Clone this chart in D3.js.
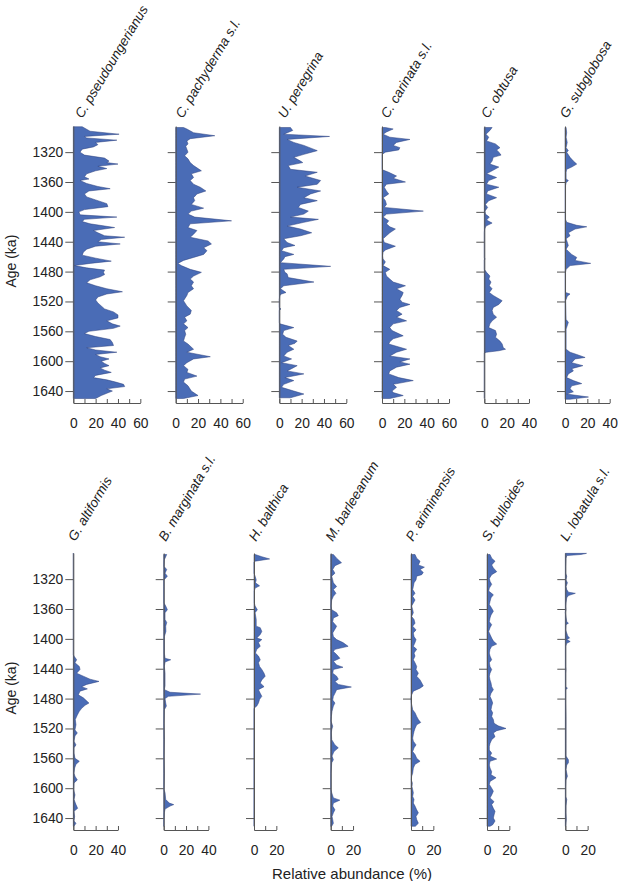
<!DOCTYPE html>
<html><head><meta charset="utf-8">
<script src="https://cdn.jsdelivr.net/npm/d3@7"></script>
<style>body{margin:0;background:#fff}</style>
</head><body><svg id="c" width="618" height="881"></svg>
<script>
// ---------- data (age ka, relative abundance %) ----------
const ageTicks = [1320,1360,1400,1440,1480,1520,1560,1600,1640];
const ageDomain = [1285,1656];

const topTaxa = ["C. pseudoungerianus","C. pachyderma s.l.","U. peregrina","C. carinata s.l.","C. obtusa","G. subglobosa"];
const topMax = [60,60,60,60,40,40];
const bottomTaxa = ["G. altiformis","B. marginata s.l.","H. balthica","M. barleeanum","P. ariminensis","S. bulloides","L. lobatula s.l."];
const bottomMax = [40,40,20,20,20,20,20];

const pseudoungerianus = [[1286,8],[1292,15],[1296,41],[1299,10],[1301,12],[1304,39],[1307,20],[1310,22],[1313,18],[1316,8],[1320,6],[1324,10],[1328,28],[1332,32],[1334,30],[1336,40],[1339,22],[1342,30],[1345,20],[1349,12],[1353,10],[1356,14],[1358,6],[1362,12],[1366,22],[1369,33],[1372,14],[1376,10],[1380,12],[1384,20],[1389,30],[1393,31],[1397,10],[1400,5],[1404,6],[1407,39],[1410,10],[1413,8],[1416,15],[1421,37],[1425,18],[1428,22],[1432,28],[1434,46],[1437,25],[1440,22],[1443,42],[1446,20],[1450,12],[1454,9],[1458,8],[1462,20],[1466,34],[1469,15],[1472,1],[1475,12],[1478,28],[1481,27],[1484,28],[1487,24],[1491,15],[1495,12],[1499,20],[1503,30],[1507,44],[1510,30],[1514,22],[1518,20],[1522,22],[1526,25],[1530,28],[1534,36],[1538,40],[1542,40],[1546,30],[1550,35],[1553,42],[1556,36],[1560,14],[1563,10],[1567,20],[1571,33],[1575,35],[1579,36],[1582,12],[1585,20],[1588,39],[1591,20],[1594,24],[1597,32],[1600,25],[1603,28],[1606,32],[1609,24],[1612,28],[1615,34],[1619,20],[1622,18],[1625,30],[1628,38],[1631,45],[1634,46],[1637,30],[1640,35],[1643,30],[1646,25],[1650,20]];
const pachyderma = [[1287,7],[1289,10],[1294,16],[1298,35],[1302,13],[1305,10],[1309,11],[1312,9],[1316,10],[1320,11],[1325,8],[1329,11],[1334,13],[1338,16],[1345,23],[1349,14],[1354,16],[1358,13],[1363,16],[1367,22],[1372,27],[1376,19],[1381,16],[1385,17],[1390,14],[1395,25],[1399,14],[1403,11],[1407,17],[1412,50],[1416,13],[1421,11],[1425,19],[1430,16],[1434,13],[1439,29],[1443,32],[1448,25],[1452,28],[1457,25],[1461,16],[1465,7],[1469,2],[1472,5],[1477,13],[1481,23],[1486,16],[1490,13],[1494,16],[1499,14],[1503,16],[1508,11],[1512,10],[1519,7],[1526,10],[1532,14],[1537,13],[1541,8],[1546,10],[1550,7],[1555,11],[1559,8],[1564,9],[1568,8],[1573,7],[1577,11],[1584,16],[1588,10],[1594,31],[1597,16],[1602,10],[1606,7],[1611,11],[1615,10],[1620,19],[1624,8],[1628,7],[1633,11],[1640,14],[1646,20],[1650,7]];
const peregrina = [[1287,10],[1291,12],[1296,4],[1299,45],[1303,7],[1307,13],[1311,22],[1318,34],[1323,22],[1327,13],[1332,19],[1334,21],[1338,8],[1343,10],[1347,34],[1352,23],[1358,37],[1363,34],[1367,16],[1372,37],[1376,28],[1381,22],[1385,34],[1390,19],[1394,17],[1399,26],[1403,22],[1407,10],[1410,35],[1414,22],[1419,7],[1423,19],[1428,29],[1432,19],[1436,4],[1441,7],[1445,14],[1448,4],[1452,2],[1457,13],[1460,5],[1463,4],[1468,1],[1473,46],[1477,4],[1481,5],[1483,7],[1488,8],[1494,31],[1499,4],[1503,1],[1508,6],[1510,2],[1512,0.5],[1517,0],[1528,0],[1530,1.5],[1532,0],[1548,0],[1550,0.5],[1555,13],[1559,4],[1564,3],[1568,6],[1573,16],[1576,14],[1579,8],[1584,13],[1588,7],[1593,4],[1597,11],[1602,2],[1606,16],[1610,11],[1613,7],[1617,22],[1622,5],[1626,13],[1631,4],[1635,2],[1640,13],[1644,22],[1649,10]];
const carinata = [[1287,3],[1289,10],[1293,4],[1296,1],[1300,7],[1303,25],[1307,13],[1311,10],[1314,16],[1317,15],[1320,3],[1323,0.3],[1343,0.3],[1344,1],[1347,6],[1352,13],[1355,10],[1360,21],[1363,4],[1367,2],[1372,4],[1376,6],[1381,1],[1385,3],[1390,4],[1394,2],[1399,37],[1403,4],[1407,1],[1412,6],[1416,4],[1420,7],[1423,12],[1428,7],[1432,4],[1436,1],[1441,2],[1446,12],[1451,3],[1454,1],[1459,0.6],[1463,1],[1467,3],[1472,1],[1477,7],[1481,3],[1486,4],[1490,7],[1494,10],[1499,21],[1503,13],[1508,19],[1512,18],[1517,16],[1521,18],[1524,25],[1528,16],[1532,13],[1537,18],[1541,13],[1546,22],[1550,10],[1555,7],[1559,9],[1566,19],[1570,10],[1574,7],[1577,6],[1584,22],[1588,13],[1593,7],[1597,25],[1601,16],[1604,25],[1608,13],[1613,7],[1617,6],[1622,15],[1626,28],[1631,10],[1635,13],[1640,9],[1642,10],[1646,19],[1650,7]];
const obtusa = [[1287,7],[1291,5],[1296,1.5],[1300,4],[1305,2],[1309,10],[1314,14],[1317,11],[1320,13],[1324,15],[1327,8],[1332,7],[1336,5],[1340,13],[1345,7],[1349,2],[1354,11],[1358,4],[1363,2],[1367,13],[1372,3],[1376,2],[1381,11],[1385,4],[1390,1],[1394,3],[1399,0.6],[1403,1],[1407,4.5],[1411,2],[1415,7],[1419,1.5],[1423,0.3],[1428,0],[1461,0],[1463,0.6],[1465,0],[1477,0],[1481,2],[1486,5],[1490,4],[1494,6],[1499,4.5],[1503,7],[1508,4.5],[1512,8],[1519,16],[1524,13],[1528,8],[1532,7],[1537,8],[1541,11],[1546,7],[1550,5],[1555,4],[1559,10],[1564,11],[1568,10],[1573,14],[1577,16],[1582,17],[1584,19],[1586,13],[1588,2],[1589,0],[1650,0]];
const subglobosa = [[1287,1],[1294,1.5],[1300,1],[1307,2],[1314,1],[1318,3],[1320,1.5],[1327,4.5],[1332,7.5],[1336,10.5],[1340,6],[1343,1.5],[1347,1],[1356,1],[1358,3],[1361,1],[1365,0.5],[1410,0.5],[1414,1.5],[1418,10.5],[1420,19.5],[1423,9],[1428,3],[1432,4.5],[1436,1],[1445,3],[1450,1],[1457,6],[1461,10.5],[1465,9],[1469,23],[1472,4.5],[1477,1],[1481,0.5],[1508,0.5],[1510,4.5],[1513,2],[1519,0.6],[1544,1],[1548,3],[1557,1],[1584,1],[1588,4.5],[1591,10.5],[1595,18],[1597,9],[1602,6],[1606,16],[1610,6],[1613,7.5],[1617,3],[1622,1.5],[1626,7.5],[1630,15],[1633,6],[1637,4.5],[1641,7.5],[1644,1.5],[1648,21],[1651,4.5]];

const altiformis = [[1285,0],[1421,0],[1423,0.6],[1428,3],[1432,1.5],[1437,5.4],[1441,6],[1446,3],[1450,9],[1454,15],[1457,23],[1461,12],[1464,7.5],[1467,12.6],[1470,6],[1475,4.5],[1479,9],[1484,12.6],[1486,14],[1489,10.5],[1493,7.5],[1497,5.4],[1502,3.6],[1508,1.8],[1515,2.4],[1522,1.5],[1526,3.6],[1530,1.5],[1537,0.6],[1542,2.4],[1546,0.6],[1553,0.6],[1560,1.5],[1564,5.4],[1568,2.4],[1573,1.2],[1580,0.6],[1584,1.5],[1589,3.6],[1593,0.6],[1602,0.3],[1609,1.5],[1615,0.6],[1622,2.4],[1627,3.9],[1631,0.6],[1638,1.2],[1644,0.6],[1647,2.4],[1651,0.6]];
const marginata = [[1287,2.7],[1294,0.6],[1303,0.3],[1307,2.7],[1312,1.2],[1316,3.3],[1321,0.3],[1330,0.3],[1352,0.3],[1356,1.8],[1361,3.3],[1365,1.2],[1374,1.2],[1378,2.7],[1383,1.8],[1390,2],[1397,0.6],[1419,0.6],[1426,1.2],[1428,6.3],[1431,1.2],[1437,0.6],[1446,1.2],[1463,1.2],[1468,0.6],[1471.5,5.7],[1474,33],[1477,4.2],[1480,1.2],[1486,1.8],[1490,2.4],[1495,0.6],[1513,0.3],[1535,0.6],[1557,0.3],[1580,0.6],[1602,0.3],[1606,1.2],[1615,1.8],[1620,5],[1622,9],[1624,5.7],[1628,1.2],[1633,0.6],[1642,0.3],[1651,0.3]];
const balthica = [[1287,1],[1290,7],[1293,14],[1296,1],[1297,0],[1312,0],[1316,1],[1321,2],[1325,1.3],[1329,5],[1332,1],[1336,0.3],[1352,0.3],[1356,1],[1361,3],[1365,1],[1374,2],[1383,2],[1385,5.6],[1390,7],[1394,5.6],[1399,2.5],[1401,7],[1405,4],[1410,5.6],[1414,2.5],[1419,1.3],[1423,4],[1428,5.6],[1432,4],[1437,5],[1441,7],[1446,9],[1450,10],[1455,7],[1459,5.6],[1464,9],[1468,4],[1473,5.6],[1477,7],[1481,5],[1486,4],[1490,2.5],[1493,0],[1651,0]];
const barleeanum = [[1287,2.4],[1292,5.3],[1298,9.7],[1302,3.8],[1307,1.8],[1312,3.8],[1316,0.9],[1321,1.8],[1325,2.4],[1330,5.3],[1334,2.4],[1339,4.7],[1343,2.4],[1348,0.9],[1352,0.6],[1356,0.3],[1361,0.9],[1365,5.3],[1369,6.8],[1372,2.4],[1377,1.8],[1383,5.3],[1387,3.8],[1392,1.8],[1397,2.4],[1401,5.3],[1405,11],[1410,15.6],[1414,3.8],[1417,2.4],[1421,5.3],[1426,8.2],[1430,2.4],[1435,5.3],[1438,11],[1441,2.4],[1446,1.8],[1450,5.3],[1454,6.8],[1457,3.8],[1461,6.8],[1464.5,18.5],[1468,5.3],[1473,3.8],[1477,2.4],[1482,1.8],[1486,3.8],[1490,2.4],[1497,1.2],[1504,0.6],[1510,0.3],[1517,1.8],[1522,0.9],[1526,0.6],[1535,0.9],[1542,3.8],[1546,6.8],[1551,2.9],[1557,1.2],[1562,2.4],[1566,0.9],[1573,0.6],[1580,0.3],[1602,0.3],[1606,0.9],[1613,2.4],[1616,8.2],[1620,2.4],[1624,1.8],[1629,3.8],[1633,2.4],[1638,1.2],[1642,1.8],[1647,2.4],[1651,0.9]];
const ariminensis = [[1287,3.6],[1292,5.1],[1296,8.1],[1301,6.6],[1304,12],[1307,8.1],[1311,11],[1314,9.6],[1316,5.1],[1321,4.5],[1325,2.7],[1330,2.1],[1334,1.5],[1339,3.6],[1343,1.5],[1348,3.6],[1352,2.1],[1356,0.6],[1361,1.5],[1365,2.1],[1370,0.6],[1374,2.7],[1379,3.6],[1383,1.5],[1388,4.5],[1392,2.1],[1397,2.7],[1401,4.5],[1405,3.6],[1410,2.1],[1414,5.1],[1419,2.7],[1423,3.6],[1428,2.1],[1432,3.6],[1437,5.1],[1441,4.5],[1446,6.6],[1450,5.1],[1455,8.1],[1459,9.6],[1463,11],[1466,8.1],[1470,2.1],[1475,0.6],[1479,0],[1486,0.3],[1490,0.9],[1495,1.5],[1499,3.6],[1504,5.1],[1508,6.6],[1512,8.7],[1515,5.1],[1520,3.6],[1524,2.7],[1528,2.1],[1533,1.5],[1537,2.1],[1542,4.5],[1546,2.7],[1551,1.5],[1555,3.6],[1560,5.1],[1564,8.1],[1568,3.6],[1573,2.1],[1580,1.5],[1584,0.6],[1589,0.3],[1593,1.2],[1598,0.9],[1602,1.5],[1606,2.1],[1611,1.5],[1615,2.7],[1620,2.1],[1624,3.6],[1629,5.1],[1633,6.6],[1638,4.5],[1642,5.1],[1647,6.6],[1651,3.9]];
const bulloides = [[1287,2.7],[1292,4.2],[1296,7.2],[1301,4.2],[1305,5.7],[1310,8.7],[1314,4.2],[1319,2.1],[1323,2.7],[1327,4.2],[1332,2.1],[1336,1.5],[1341,5.7],[1345,3.6],[1350,2.7],[1354,2.1],[1359,4.2],[1363,5.7],[1368,3.6],[1372,2.7],[1377,2.1],[1381,4.2],[1385,2.7],[1390,1.5],[1394,2.7],[1399,4.2],[1403,5.7],[1407,8.7],[1410,4.2],[1414,2.7],[1419,2.1],[1423,2.7],[1428,4.2],[1432,2.1],[1437,2.7],[1441,4.2],[1446,2.7],[1450,2.1],[1455,2.7],[1459,3.6],[1464,4.2],[1468,5.7],[1473,3.6],[1477,2.7],[1482,4.2],[1486,5.1],[1490,4.2],[1495,3.6],[1499,5.1],[1504,4.2],[1508,5.7],[1513,6.3],[1516.5,10],[1520,17],[1523,8.7],[1526,5.7],[1531,7.2],[1535,4.2],[1540,2.7],[1544,2.1],[1549,2.1],[1553,4.2],[1557,2.7],[1561,8.7],[1564,2.7],[1569,2.1],[1573,2.7],[1578,4.2],[1582,3.6],[1586,8.1],[1591,2.7],[1595,2.1],[1600,4.2],[1604,5.7],[1609,4.2],[1613,2.7],[1618,6.3],[1622,4.2],[1627,5.7],[1631,7.2],[1636,6.3],[1640,5.7],[1644,7.2],[1649,5.1],[1651,2.7]];
const lobatula = [[1285.5,19],[1287,14],[1288.5,1.3],[1292,0.6],[1303,0.3],[1312,0.3],[1316,1.3],[1321,0.6],[1325,1.9],[1330,0.6],[1334,1.3],[1337.5,2.8],[1339,9],[1342,2.8],[1345,1.3],[1352,0.6],[1356,0.3],[1361,0.6],[1365,0],[1377,1.3],[1379,2.8],[1381,0.6],[1388,0.3],[1396,2.2],[1399,3.8],[1401,1.3],[1403.5,4.4],[1406,1.3],[1410,0.3],[1437,0.3],[1441,0.6],[1446,0.3],[1464,0.3],[1466,1.9],[1468,0.3],[1486,0.3],[1504,0.6],[1517,0.6],[1540,0.6],[1557,0.6],[1562,2.8],[1566,2.8],[1569,1.3],[1575,0.6],[1584,1.9],[1589,0.6],[1598,0.3],[1611,0.3],[1615,1.3],[1624,0.6],[1633,0.6],[1642,0.9],[1651,0.3]];

const topSeries = [pseudoungerianus,pachyderma,peregrina,carinata,obtusa,subglobosa];
const bottomSeries = [altiformis,marginata,balthica,barleeanum,ariminensis,bulloides,lobatula];

// ---------- layout ----------
const FONT = "Liberation Sans, Arial, Helvetica, sans-serif";
const FS = 13.8;
const TFS = 13.5;
const unitPx = 1.117;
const rows = [
  {taxa: topTaxa, max: topMax, series: topSeries, top: 126, bottom: 403, titleY: 119,
   titleDx: [9,7,6,6,4,2], axisX: [73.3,175.7,279.3,382,484.3,565]},
  {taxa: bottomTaxa, max: bottomMax, series: bottomSeries, top: 553, bottom: 830, titleY: 542,
   titleDx: [2,2,2,2,2,2,2], axisX: [73.3,163.7,254,330.7,411,487,565.3]}
];

const svg = d3.select("#c");

rows.forEach(row => {
  const y = d3.scaleLinear().domain(ageDomain).range([row.top, row.bottom]);
  row.taxa.forEach((name, i) => {
    const x0 = row.axisX[i];
    const mx = row.max[i];
    const x = d3.scaleLinear().domain([0, mx]).range([x0, x0 + mx * unitPx]);
    const g = svg.append("g");
    const area = d3.area().y(d => y(d[0])).x0(x(0)).x1(d => x(d[1]));
    g.append("path").datum(row.series[i]).attr("d", area)
      .attr("fill", "#4a6cb6").attr("stroke", "#2b3f7c").attr("stroke-width", 0.5)
      .attr("stroke-linejoin", "round");

    const ya = d3.axisLeft(y).tickValues(ageTicks).tickSize(8).tickSizeOuter(0).tickPadding(2)
      .tickFormat(i === 0 ? d3.format("d") : () => "");
    const gy = g.append("g").attr("transform", `translate(${x0},0)`).call(ya);
    const xa = d3.axisBottom(x).tickValues(d3.range(0, mx + 1, 10)).tickSizeInner(-4).tickSizeOuter(0)
      .tickPadding(15).tickFormat(d => d % 20 === 0 ? d : "");
    const gx = g.append("g").attr("transform", `translate(0,${row.bottom})`).call(xa);
    [gy, gx].forEach(a => {
      a.attr("font-family", FONT).attr("font-size", FS);
      a.selectAll("path,line").attr("stroke", "#555").attr("stroke-width", 1);
      a.selectAll("text").attr("fill", "#222");
    });

    const tx = x0 + row.titleDx[i], ty = row.titleY;
    g.append("text").attr("x", tx).attr("y", ty)
      .attr("transform", `rotate(-59,${tx},${ty})`)
      .attr("font-family", FONT).attr("font-size", TFS).attr("font-style", "italic")
      .attr("fill", "#222").text(name);
  });
  const yc = y(1466);
  svg.append("text").attr("transform", `translate(16,${yc}) rotate(-90)`)
    .attr("text-anchor", "middle").attr("font-family", FONT).attr("font-size", 14)
    .attr("fill", "#222").text("Age (ka)");
});

svg.append("text").attr("x", 352).attr("y", 879).attr("text-anchor", "middle")
  .attr("font-family", FONT).attr("font-size", 15).attr("fill", "#222")
  .text("Relative abundance (%)");
</script></body></html>
